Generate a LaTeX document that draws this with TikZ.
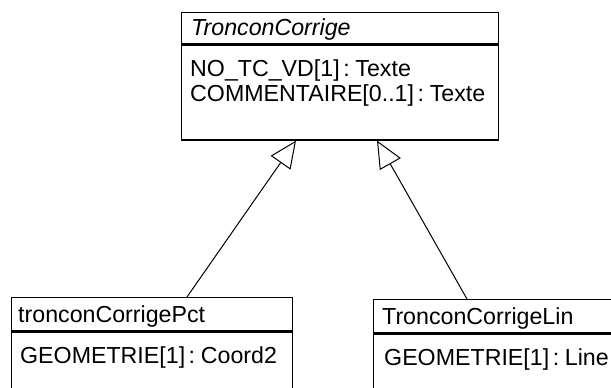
\documentclass[tikz,border=0pt]{standalone}
\usepackage{fontspec}
\setmainfont[WordSpace=0.55]{Liberation Sans}
\usetikzlibrary{arrows.meta}

\tikzset{
    classbox/.style={draw, line width=1.3pt, anchor=north west, inner sep=0pt},
    member/.style={anchor=base west, inner sep=0pt, font=\fontsize{23.2}{25}\selectfont},
    inherit/.style={-{Triangle[open, length=27pt, width=24pt]}, line width=1pt},
}

\begin{document}
\begin{tikzpicture}[x=1pt, y=-1pt]
    \useasboundingbox (0,0) rectangle (611,388);
    \clip (0,0) rectangle (611,388);

    % 父类
    \node[classbox, minimum width=317pt, minimum height=31pt] (tcHead) at (181,12) {};
    \node[classbox, minimum width=317pt, minimum height=95pt] (tcBody) at (tcHead.south west) {};
    \node[member, font=\fontsize{23.2}{25}\selectfont\itshape] (tcName) at ([shift={(10pt,-23pt)}]tcHead.north west) {TronconCorrige};
    \node[member] (tcAttrA) at ([shift={(9pt,-32pt)}]tcBody.north west) {NO\_TC\_VD[1] : Texte};
    \node[member] (tcAttrB) at ([shift={(9pt,-57pt)}]tcBody.north west) {COMMENTAIRE[0..1] : Texte};

    % 子类 Pct
    \node[classbox, minimum width=281pt, minimum height=33pt] (pctHead) at (11,297) {};
    \node[classbox, minimum width=281pt, minimum height=80pt] (pctBody) at (pctHead.south west) {};
    \node[member] (pctName) at ([shift={(7pt,-25pt)}]pctHead.north west) {tronconCorrigePct};
    \node[member] (pctAttr) at ([shift={(9pt,-32pt)}]pctBody.north west) {GEOMETRIE[1] : Coord2};

    % 子类 Lin
    \node[classbox, minimum width=280pt, minimum height=33pt] (linHead) at (373,299) {};
    \node[classbox, minimum width=280pt, minimum height=80pt] (linBody) at (linHead.south west) {};
    \node[member] (linName) at ([shift={(9pt,-25pt)}]linHead.north west) {TronconCorrigeLin};
    \node[member] (linAttr) at ([shift={(11pt,-32pt)}]linBody.north west) {GEOMETRIE[1] : Line};

    % 继承
    \coordinate (pctJoin) at ([xshift=176pt]pctHead.north west);
    \coordinate (linJoin) at ([xshift=94pt]linHead.north west);
    \coordinate (tcJoinL) at ([xshift=115pt]tcBody.south west);
    \coordinate (tcJoinR) at ([xshift=196pt]tcBody.south west);
    \draw[inherit] (pctJoin) -- (tcJoinL);
    \draw[inherit] (linJoin) -- (tcJoinR);
\end{tikzpicture}
\end{document}
